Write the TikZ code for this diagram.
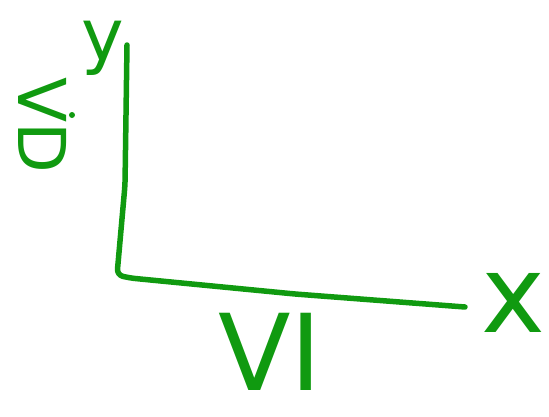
\documentclass[tikz,border=0pt]{standalone}
\usepackage{fontspec}
\setmainfont{DejaVu Sans}
\definecolor{pen}{HTML}{109A10}
\newcommand\fsY{\fontsize{72}{72}\selectfont}
\newcommand\fsX{\fontsize{108}{108}\selectfont}
\newcommand\fsV{\fontsize{106}{106}\selectfont}
\newcommand\fsD{\fontsize{66}{66}\selectfont}

\begin{document}
\begin{tikzpicture}[x=1pt,y=-1pt,
  stroke/.style={pen,line width=5.5pt,line cap=round,line join=round,rounded corners=6pt},
  lab/.style={text=pen,inner sep=0,anchor=base}]
\useasboundingbox (0,0) rectangle (549,416);
% axes
\coordinate (ytip)   at (127,45);
\coordinate (origin) at (117,275);
\coordinate (xtip)   at (465,307);
\draw[stroke] (ytip) -- (125,185) -- (origin) -- (130,278) -- (295,294) -- (xtip);
% labels
\node[lab,font=\fsY] (ylab) at (103,60) {y};
\node[lab,font=\fsX] (xlab) at (513,332) {x};
\node[lab,font=\fsV] (vilab) at (270,390) {VI};
\node[lab,font=\fsD,rotate=-90] (vdlab) at (18,125) {VD};
\fill[pen] (72,115) circle (3);
\end{tikzpicture}
\end{document}
